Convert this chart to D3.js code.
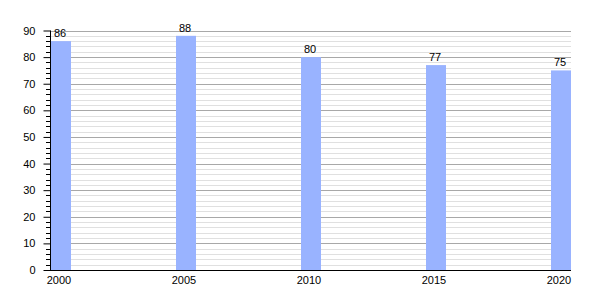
<!DOCTYPE html>
<html>
<head>
<meta charset="utf-8">
<script src="https://cdn.jsdelivr.net/npm/d3@7"></script>
<style>
  body { margin: 0; background: #fff; }
  text { font-family: "Liberation Sans", Arial, sans-serif; font-size: 11px; fill: #000; }
</style>
</head>
<body>
<div id="chart"></div>
<script>
// Data
const years = ["2000", "2005", "2010", "2015", "2020"];
const values = [86, 88, 80, 77, 75];
const yTicks = [0, 10, 20, 30, 40, 50, 60, 70, 80, 90];

const width = 600, height = 300;
const margin = {top: 30, right: 29, bottom: 30, left: 50};
const barWidth = 20;

const svg = d3.select("#chart")
    .append("svg")
    .attr("width", width)
    .attr("height", height);

// Scales
const x = d3.scalePoint()
    .domain(years)
    .range([margin.left + 1, width - margin.right - barWidth]);

const y = d3.scaleLinear()
    .domain([0, 90])
    .range([height - margin.bottom, margin.top + 0.5]);

// Grid lines: minor every 2, major every 10
const minor = d3.range(2, 91, 2).filter(d => d % 10 !== 0);
svg.append("g")
    .selectAll("line")
    .data(minor)
    .enter()
    .append("line")
    .attr("x1", margin.left)
    .attr("x2", width - margin.right)
    .attr("y1", d => Math.round(y(d)) + 0.5)
    .attr("y2", d => Math.round(y(d)) + 0.5)
    .attr("stroke", "#e0e0e0");

svg.append("g")
    .selectAll("line")
    .data(yTicks.slice(1))
    .enter()
    .append("line")
    .attr("x1", margin.left)
    .attr("x2", width - margin.right)
    .attr("y1", d => Math.round(y(d)) + 0.5)
    .attr("y2", d => Math.round(y(d)) + 0.5)
    .attr("stroke", "#a8a8a8");

// Bars
svg.append("g")
    .selectAll("rect")
    .data(values)
    .enter()
    .append("rect")
    .attr("x", (d, i) => x(years[i]))
    .attr("y", d => y(d))
    .attr("width", barWidth)
    .attr("height", d => y(0) - y(d))
    .attr("fill", "#99b3ff");

// Value labels
svg.append("g")
    .selectAll("text")
    .data(values)
    .enter()
    .append("text")
    .attr("x", (d, i) => x(years[i]) + barWidth / 2 - 1)
    .attr("y", d => y(d) - 4)
    .attr("text-anchor", "middle")
    .text(d => d);

// Minor ticks on the y axis
svg.append("g")
    .selectAll("line")
    .data(minor)
    .enter()
    .append("line")
    .attr("x1", margin.left - 4)
    .attr("x2", margin.left)
    .attr("y1", d => Math.round(y(d)) + 0.5)
    .attr("y2", d => Math.round(y(d)) + 0.5)
    .attr("stroke", "#000");

// Y axis
const yAxis = svg.append("g")
    .attr("transform", "translate(" + (margin.left + 0.5) + ",0)")
    .call(d3.axisLeft(y).tickValues(yTicks).tickSize(7).tickPadding(8));
yAxis.selectAll("text").style("font-size", "11px").style("font-family", null);
yAxis.select(".domain").attr("d", "M0," + y(90) + "V" + y(0));

// X axis
const xAxis = svg.append("g")
    .attr("transform", "translate(0," + (Math.round(y(0)) + 0.5) + ")");
xAxis.append("line")
    .attr("x1", margin.left - 5)
    .attr("x2", width - margin.right)
    .attr("stroke", "#000");
xAxis.selectAll("text")
    .data(years)
    .enter()
    .append("text")
    .attr("x", d => x(d) + barWidth / 2 - 2)
    .attr("y", 13)
    .attr("text-anchor", "middle")
    .text(d => d);
</script>
</body>
</html>
